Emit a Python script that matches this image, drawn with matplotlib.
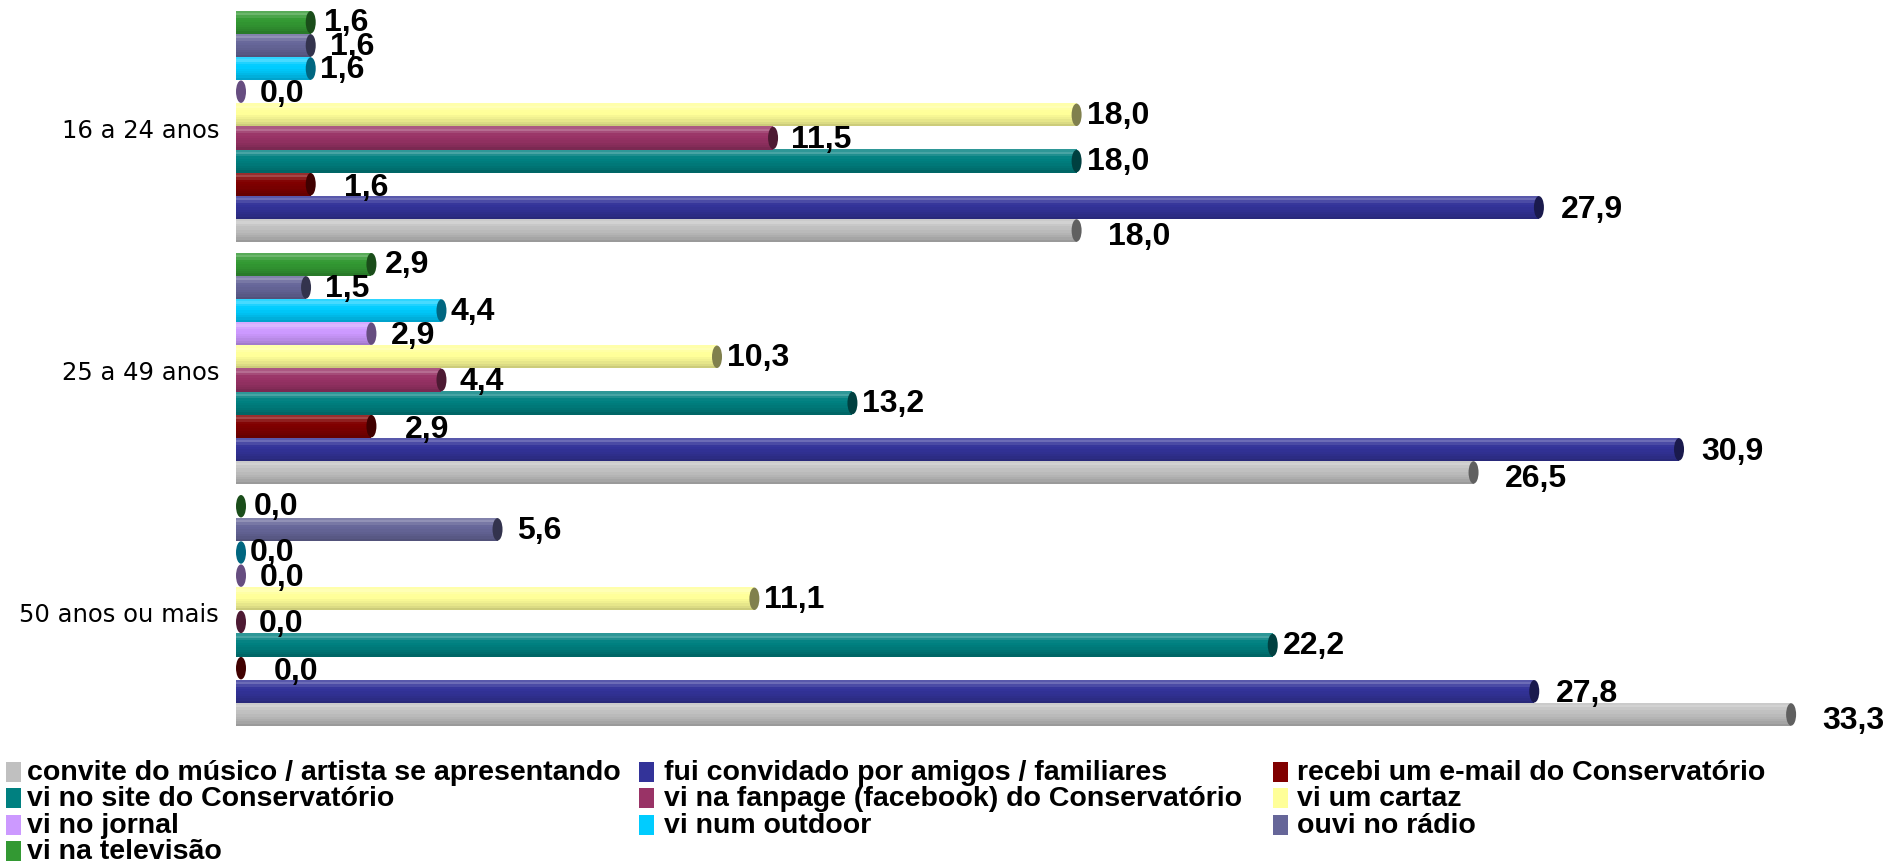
import matplotlib
matplotlib.use('Agg')
import matplotlib.pyplot as plt
from matplotlib.patches import Ellipse, Rectangle
import matplotlib.colors as mcolors
import numpy as np

# ---------------- data ----------------
categories = ['50 anos ou mais', '25 a 49 anos', '16 a 24 anos']  # bottom -> top
series_names = [
    'convite do músico / artista se apresentando',
    'fui convidado por amigos / familiares',
    'recebi um e-mail do Conservatório',
    'vi no site do Conservatório',
    'vi na fanpage (facebook) do Conservatório',
    'vi um cartaz',
    'vi no jornal',
    'vi num outdoor',
    'ouvi no rádio',
    'vi na televisão',
]
convite = [33.3, 26.5, 18.0]
fui = [27.8, 30.9, 27.9]
email = [0.0, 2.9, 1.6]
site = [22.2, 13.2, 18.0]
fanpage = [0.0, 4.4, 11.5]
cartaz = [11.1, 10.3, 18.0]
jornal = [0.0, 2.9, 0.0]
outdoor = [0.0, 4.4, 1.6]
radio = [5.6, 1.5, 1.6]
tv = [0.0, 2.9, 1.6]
values = [convite, fui, email, site, fanpage, cartaz, jornal, outdoor, radio, tv]

# ---------------- style ----------------
colors = ['#C0C0C0', '#333399', '#800000', '#008080', '#993366',
          '#FFFF99', '#CC99FF', '#00CCFF', '#666699', '#339933']
# label offsets in pixels (dx right, dy down) per series
lab_dx = [26, 17, 28, 5, 13, 5, 14, 4, 14, 8]
lab_dy = [6, 2, 3, 0, 1, 0, 1, 0, 1, 0]

W, H = 1901, 862
fig = plt.figure(figsize=(W / 100, H / 100), dpi=100)
ax_left, ax_bottom, ax_top = 236, 727, 11.7
ax = fig.add_axes([ax_left / W, (H - ax_bottom) / H, 1 - ax_left / W, (ax_bottom - ax_top) / H])
xmax = (W - ax_left) / 46.7
ax.set_xlim(0, xmax)
n_s = len(values)
h = 0.0956
ax.set_ylim(-n_s * h / 2, len(categories) - 1 + n_s * h / 2)
ax.axis('off')

px_per_x = (W - ax_left) / xmax
cap_w = 10 / px_per_x

shade = [1.18, 1.28, 1.12, 1.02, 1.0, 0.97, 0.94, 0.9, 0.86, 0.8]
NS = len(shade)


def adjust(c, f):
    r = np.array(mcolors.to_rgb(c))
    if f >= 1:
        r = r + (1 - r) * (f - 1)
    else:
        r = r * f
    return tuple(np.clip(r, 0, 1))


def fmt(v):
    return f'{v:.1f}'.replace('.', ',')


for k, vals in enumerate(values):
    for g, v in enumerate(vals):
        y = g + (k - (n_s - 1) / 2) * h
        if v > 0:
            for j, f in enumerate(shade):
                ys = y + h / 2 - (j + 0.5) * h / NS
                ax.barh(ys, v, height=h / NS * 1.02, left=0, color=adjust(colors[k], f),
                        linewidth=0, zorder=2)
        cx = max(v, cap_w / 2)
        ax.add_patch(Ellipse((cx, y), cap_w, h * 0.97, facecolor=adjust(colors[k], 0.5),
                             edgecolor='none', zorder=3))
        ax.annotate(fmt(v), (cx + cap_w / 2, y), xytext=(lab_dx[k] * 0.72, -lab_dy[k] * 0.72),
                    textcoords='offset points', ha='left', va='center',
                    fontsize=23, fontweight='bold', family='Liberation Sans',
                    annotation_clip=False, zorder=5)

for g, cat in enumerate(categories):
    ax.annotate(cat, (0, g), xytext=(-17 * 0.72, -4 * 0.72), textcoords='offset points',
                ha='right', va='center', fontsize=17.5, family='DejaVu Sans',
                annotation_clip=False)

# ---------------- legend ----------------
col_marker = [6, 639, 1273]
col_text = [27, 664, 1297]
row_y = [773, 799, 826, 852]
for i, name in enumerate(series_names):
    col, row = i % 3, i // 3
    yc = row_y[row]
    fig.patches.append(Rectangle((col_marker[col] / W, (H - yc - 10) / H), 15 / W, 20 / H,
                                 transform=fig.transFigure, facecolor=colors[i],
                                 edgecolor='none'))
    fig.text(col_text[col] / W, (H - yc) / H, name, ha='left', va='center',
             fontsize=20.5, fontweight='bold', family='Liberation Sans')

fig.savefig('out.png', dpi=100)
